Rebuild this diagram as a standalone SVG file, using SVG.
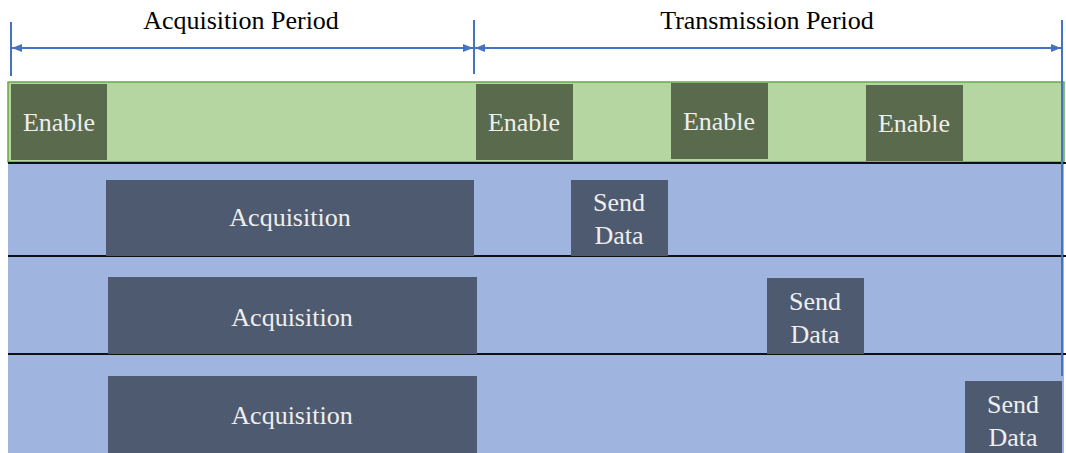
<svg xmlns="http://www.w3.org/2000/svg" width="1066" height="453" viewBox="0 0 1066 453">
<style>
.t{font-family:"Liberation Serif","Times New Roman",serif;font-size:26px;text-anchor:middle}
.w{fill:#eeeeee}
.en{fill:#5a6a4c}
.bx{fill:#4e5a70}
.tk{stroke:#4472c4;stroke-width:2;fill:none}
.sep{stroke:#111;stroke-width:2}
</style>
<defs>
<marker id="ah" viewBox="0 0 10 10" refX="10" refY="5" markerWidth="10" markerHeight="10" markerUnits="userSpaceOnUse" orient="auto-start-reverse">
<path d="M0,1 L10,5 L0,9 z" fill="#4472c4"/>
</marker>
</defs>
<rect width="1066" height="453" fill="#fff"/>
<g id="lanes">
<rect x="8" y="82" width="1056" height="80" fill="#b6d6a1" stroke="#6aa84f" stroke-width="1.5"/>
<rect x="8" y="163" width="1056" height="290" fill="#9fb5e0"/>
<line class="sep" x1="8" y1="163" x2="1066" y2="163"/>
<line class="sep" x1="8" y1="256" x2="1066" y2="256"/>
<line class="sep" x1="8" y1="354" x2="1066" y2="354"/>
</g>
<g id="labels">
<text class="t" x="241" y="29">Acquisition Period</text>
<text class="t" x="767" y="29">Transmission Period</text>
</g>
<g id="connectors">
<line class="tk" x1="11" y1="22" x2="11" y2="76"/>
<line class="tk" x1="474" y1="20" x2="474" y2="74"/>
<line class="tk" x1="1062" y1="20" x2="1062" y2="376"/>
<line class="tk" x1="12" y1="48" x2="473" y2="48" marker-start="url(#ah)" marker-end="url(#ah)"/>
<line class="tk" x1="475" y1="48" x2="1061" y2="48" marker-start="url(#ah)" marker-end="url(#ah)"/>
</g>
<g id="enable1"><rect class="en" x="11" y="84" width="96" height="76"/><text class="t w" x="59" y="131">Enable</text></g>
<g id="enable2"><rect class="en" x="476" y="84" width="97" height="76"/><text class="t w" x="524" y="131">Enable</text></g>
<g id="enable3"><rect class="en" x="671" y="83" width="97" height="76"/><text class="t w" x="719" y="130">Enable</text></g>
<g id="enable4"><rect class="en" x="866" y="85" width="97" height="76"/><text class="t w" x="914" y="132">Enable</text></g>
<g id="acq1"><rect class="bx" x="106" y="180" width="368" height="76"/><text class="t w" x="290" y="226">Acquisition</text></g>
<g id="acq2"><rect class="bx" x="108" y="277" width="369" height="77"/><text class="t w" x="292" y="326">Acquisition</text></g>
<g id="acq3"><rect class="bx" x="108" y="376" width="369" height="77"/><text class="t w" x="292" y="424">Acquisition</text></g>
<g id="send1"><rect class="bx" x="571" y="180" width="97" height="76"/><text class="t w" x="619" y="211">Send</text><text class="t w" x="619" y="244">Data</text></g>
<g id="send2"><rect class="bx" x="767" y="278" width="97" height="76"/><text class="t w" x="815" y="310">Send</text><text class="t w" x="815" y="343">Data</text></g>
<g id="send3"><rect class="bx" x="965" y="381" width="97" height="72"/><text class="t w" x="1013" y="413">Send</text><text class="t w" x="1013" y="446">Data</text></g>
</svg>
